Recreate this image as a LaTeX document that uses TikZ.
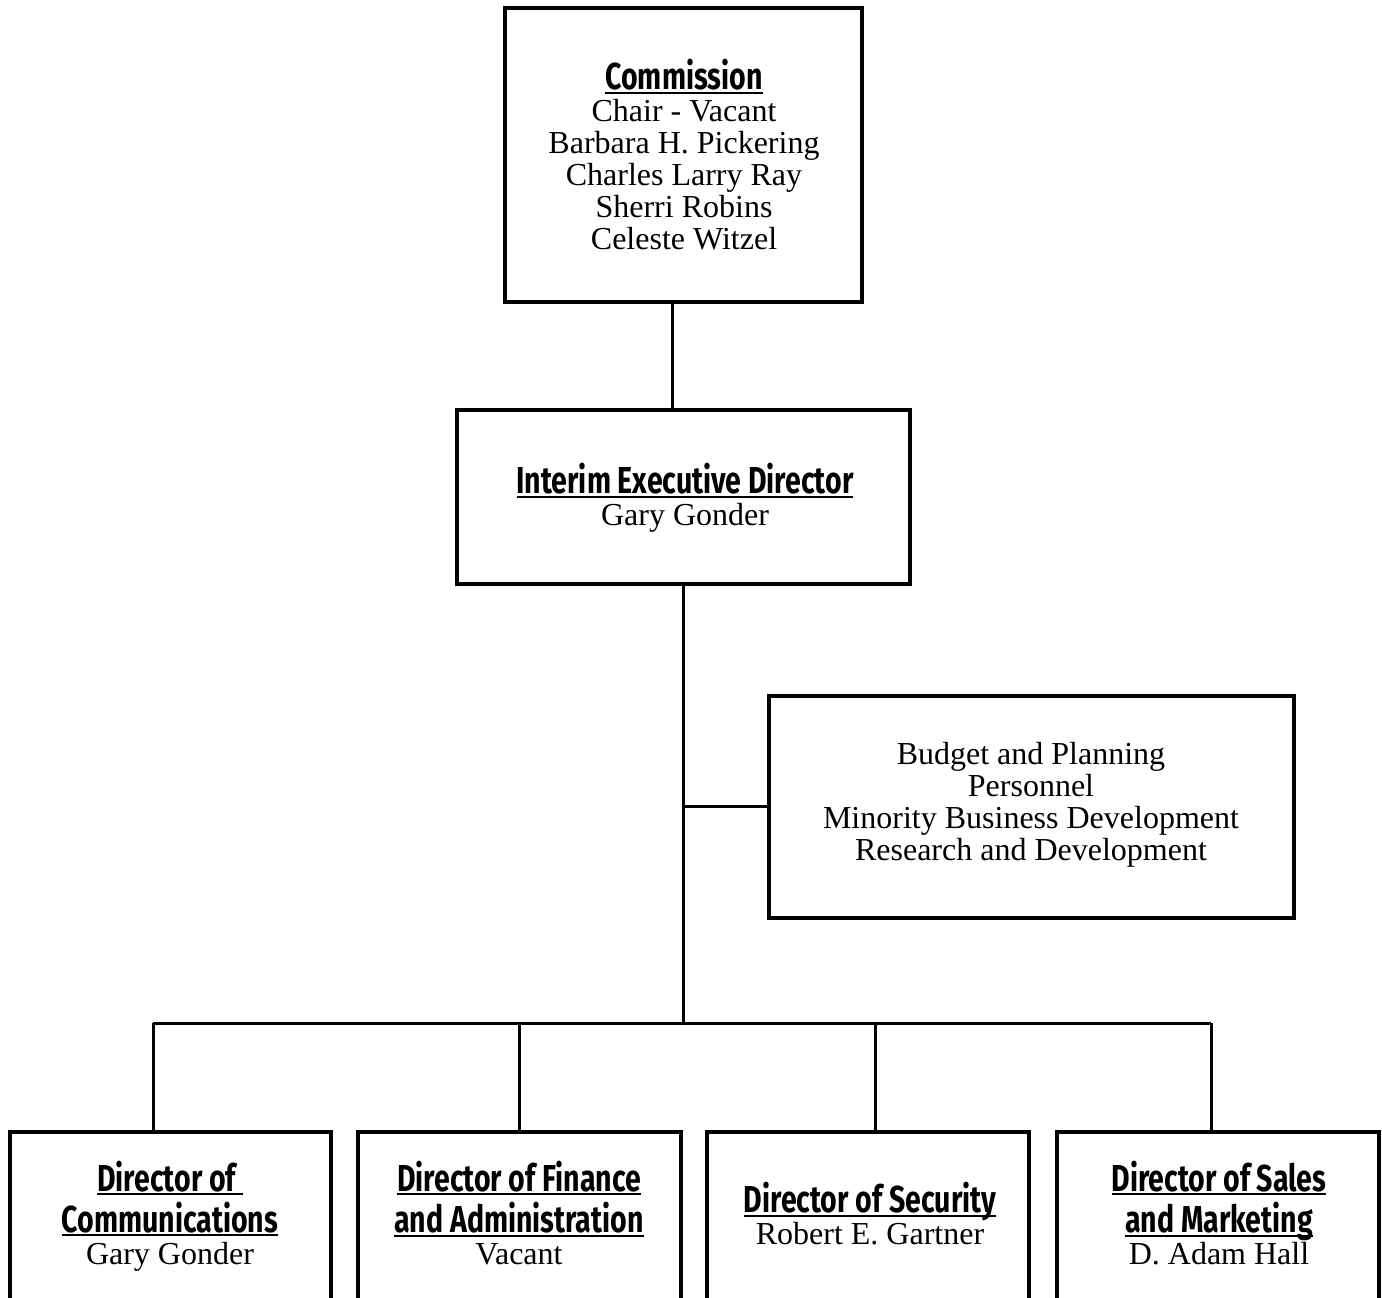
\documentclass[tikz,border=0pt]{standalone}
\usepackage{fontspec}
\setmainfont{Liberation Serif}
\newfontfamily\headfont[FakeStretch=0.76]{Fira Sans}
\newcommand\hd[1]{{\headfont\bfseries\fontsize{37.5}{37.5}\selectfont\setbox0\hbox{#1}\rlap{\rule[-4pt]{\wd0}{2pt}}\box0}}
\begin{document}
\begin{tikzpicture}[x=1pt,y=-1pt,
  box/.style={draw=black,line width=3.2pt,rectangle},
  conn/.style={draw=black,line width=3pt},
  txt/.style={align=center,font=\fontsize{32}{32}\selectfont,inner sep=0pt}]
\useasboundingbox (0,0) rectangle (1382,1298);
\clip (0,0) rectangle (1382,1298);
\fill[white] (0,0) rectangle (1382,1298);
% boxes
\draw[box] (505,8) rectangle (862,302);
\coordinate (commB) at (672,302);
\draw[box] (457,410) rectangle (910,584);
\coordinate (ieT) at (672,410);
\coordinate (ieB) at (683,584);
\draw[box] (769,696) rectangle (1294,918);
\coordinate (bpL) at (769,806);
\coordinate (junc) at (683,806);
\coordinate (bus) at (683,1023);
\foreach \l/\r/\c/\n in {10/331/153/a,358/681/519/b,707/1029/875/c,1057/1379/1211/d}{
  \draw[box] (\l,1330) |- (\r,1132) -- (\r,1330);
  \coordinate (top\n) at (\c,1132);
  \coordinate (bus\n) at (\c,1023);
}
% connectors
\draw[conn] (commB) -- (ieT);
\draw[conn] (ieB) -- (bus);
\draw[conn] (junc) -- (bpL);
\draw[conn] (busa) -- (busd);
\foreach \n in {a,b,c,d}{\draw[conn] (bus\n) -- (top\n);}
% texts
\node[txt] (tcomm) at (684,155) {\hd{Commission}\\Chair - Vacant\\Barbara H. Pickering\\Charles Larry Ray\\Sherri Robins\\Celeste Witzel};
\node[txt] (tie) at (685,498) {\hd{Interim Executive Director}\\Gary Gonder};
\node[txt] (tbp) at (1031,805) {Budget and Planning\\Personnel\\Minority Business Development\\Research and Development};
\node[txt] (ta) at (170,1216) {\hd{Director of\ }\\[6pt]\hd{Communications}\\Gary Gonder};
\node[txt] (tb) at (519,1213) {\hd{Director of Finance}\\[6pt]\hd{and Administration}\\Vacant};
\node[txt] (tc) at (870,1214) {\hd{Director of Security}\\Robert E. Gartner};
\node[txt] (td) at (1219,1213) {\hd{Director of Sales}\\[6pt]\hd{and Marketing}\\D. Adam Hall};
\end{tikzpicture}
\end{document}
